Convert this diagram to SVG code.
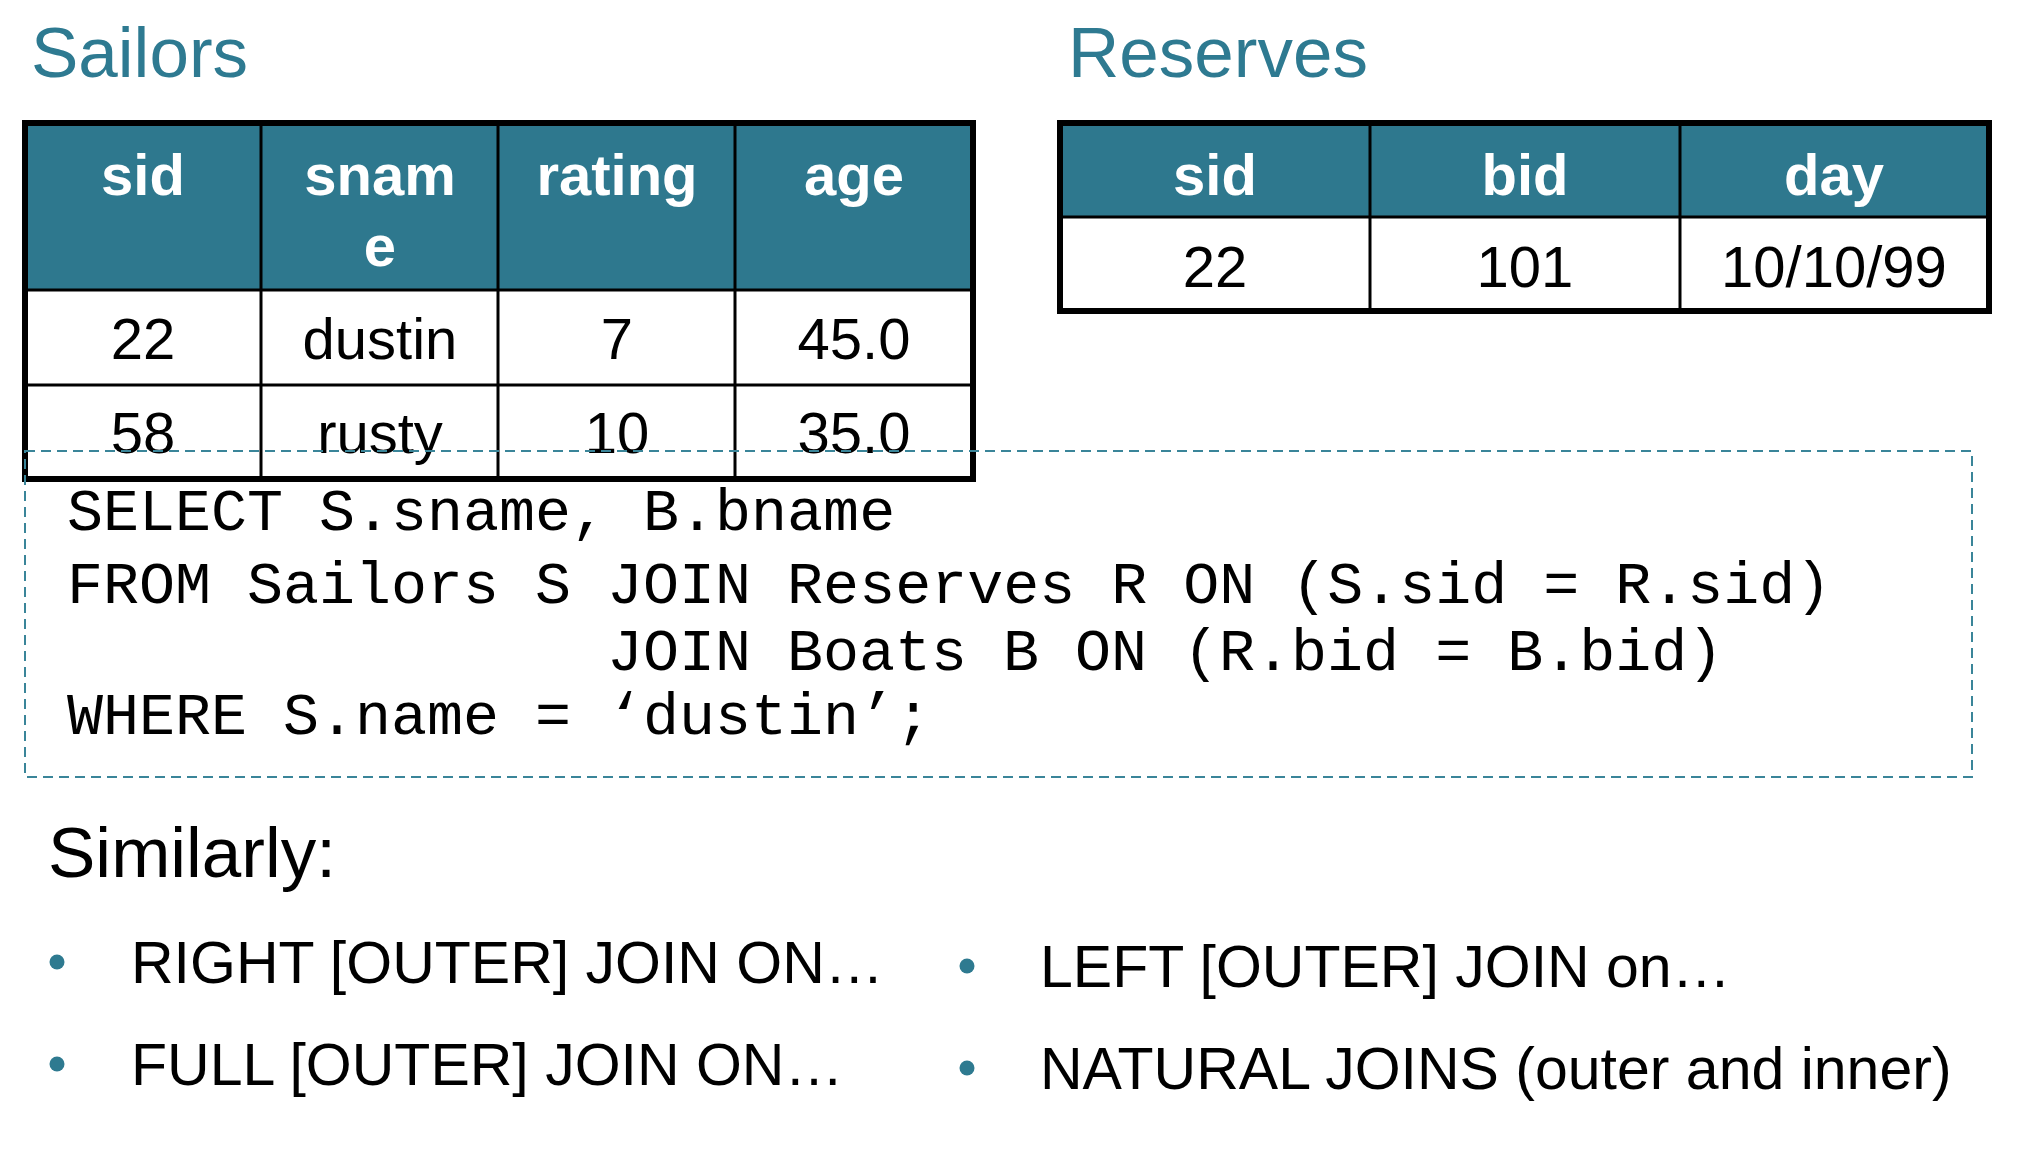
<svg xmlns="http://www.w3.org/2000/svg" width="2018" height="1162" viewBox="0 0 2018 1162">
<style>
.title{font-family:"Liberation Sans",Arial,sans-serif;font-size:71px;fill:#2E7A91}
.hd{font-family:"Liberation Sans",Arial,sans-serif;font-size:58px;font-weight:bold;fill:#ffffff;text-anchor:middle}
.cell{font-family:"Liberation Sans",Arial,sans-serif;font-size:58px;fill:#000;text-anchor:middle}
.hfill{fill:#2E788E}
.inner{stroke:#000;stroke-width:3;fill:none}
.outer{stroke:#000;stroke-width:6;fill:none}
.sql{font-family:"Liberation Mono","Courier New",monospace;font-size:60px;fill:#000}
.body{font-family:"Liberation Sans",Arial,sans-serif;fill:#000}
.dot{fill:#2E7A90}
</style>
<rect width="2018" height="1162" fill="#ffffff"/>

<g id="sailors">
  <text class="title" x="31" y="77">Sailors</text>
  <rect class="hfill" x="25" y="123" width="948" height="167"/>
  <rect x="25" y="290" width="948" height="189" fill="#ffffff"/>
  <line class="inner" x1="25" y1="290" x2="973" y2="290"/>
  <line class="inner" x1="25" y1="385" x2="973" y2="385"/>
  <line class="inner" x1="261" y1="123" x2="261" y2="479"/>
  <line class="inner" x1="498" y1="123" x2="498" y2="479"/>
  <line class="inner" x1="735" y1="123" x2="735" y2="479"/>
  <rect class="outer" x="25" y="123" width="948" height="356"/>
  <text class="hd" x="143" y="195">sid</text>
  <text class="hd" x="380" y="195">snam</text>
  <text class="hd" x="380" y="266">e</text>
  <text class="hd" x="617" y="195">rating</text>
  <text class="hd" x="854" y="195">age</text>
  <text class="cell" x="143" y="359">22</text>
  <text class="cell" x="380" y="359">dustin</text>
  <text class="cell" x="617" y="359">7</text>
  <text class="cell" x="854" y="359">45.0</text>
  <text class="cell" x="143" y="453">58</text>
  <text class="cell" x="380" y="453">rusty</text>
  <text class="cell" x="617" y="453">10</text>
  <text class="cell" x="854" y="453">35.0</text>
</g>

<g id="reserves">
  <text class="title" x="1068" y="77">Reserves</text>
  <rect class="hfill" x="1060" y="123" width="929" height="94"/>
  <rect x="1060" y="217" width="929" height="94" fill="#ffffff"/>
  <line class="inner" x1="1060" y1="217" x2="1989" y2="217"/>
  <line class="inner" x1="1370" y1="123" x2="1370" y2="311"/>
  <line class="inner" x1="1680" y1="123" x2="1680" y2="311"/>
  <rect class="outer" x="1060" y="123" width="929" height="188"/>
  <text class="hd" x="1215" y="195">sid</text>
  <text class="hd" x="1525" y="195">bid</text>
  <text class="hd" x="1834" y="195">day</text>
  <text class="cell" x="1215" y="287">22</text>
  <text class="cell" x="1525" y="287">101</text>
  <text class="cell" x="1834" y="287">10/10/99</text>
</g>

<g id="sql-query">
  <rect x="25" y="451" width="1947" height="326" fill="none" stroke="#3A8599" stroke-width="2" stroke-dasharray="10 6"/>
  <text class="sql" x="67" y="530">SELECT S.sname, B.bname</text>
  <text class="sql" x="67" y="603">FROM Sailors S JOIN Reserves R ON (S.sid = R.sid)</text>
  <text class="sql" x="607" y="670">JOIN Boats B ON (R.bid = B.bid)</text>
  <text class="sql" x="67" y="734">WHERE S.name = ‘dustin’;</text>
</g>

<g id="similarly">
  <text class="body" x="48" y="877" font-size="71">Similarly:</text>
  <circle class="dot" cx="57" cy="962" r="7.5"/>
  <text class="body" x="131" y="983" font-size="59">RIGHT [OUTER] JOIN ON…</text>
  <circle class="dot" cx="57" cy="1064" r="7.5"/>
  <text class="body" x="131" y="1085" font-size="59">FULL [OUTER] JOIN ON…</text>
  <circle class="dot" cx="967" cy="966" r="7.5"/>
  <text class="body" x="1040" y="987" font-size="59">LEFT [OUTER] JOIN on…</text>
  <circle class="dot" cx="967" cy="1068" r="7.5"/>
  <text class="body" x="1040" y="1089" font-size="59">NATURAL JOINS (outer and inner)</text>
</g>
</svg>
